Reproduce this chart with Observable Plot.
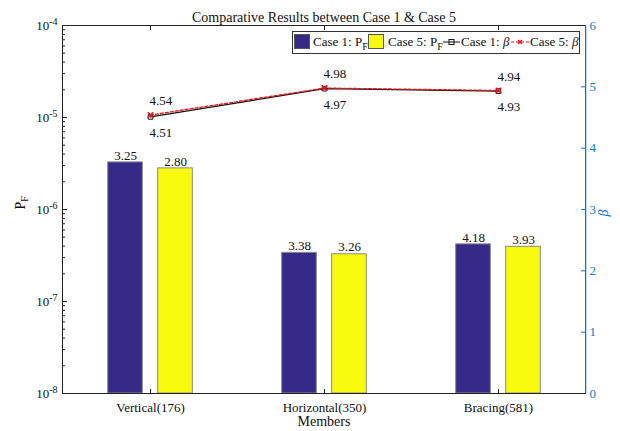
<!DOCTYPE html>
<html><head><meta charset="utf-8">
<script src="https://cdn.jsdelivr.net/npm/d3@7"></script>
<script src="https://cdn.jsdelivr.net/npm/@observablehq/plot@0.6"></script>
<style>
body{margin:0;background:#fff;font-family:"Liberation Serif","Times New Roman",serif}
#wrap{position:relative;width:620px;height:431px}
#legend{position:absolute;left:292px;top:31px;width:286px;height:21px;border:1px solid #333;background:#fff;font-size:13px;color:#111;white-space:nowrap}
#legend > *{position:absolute}
#legend .sw{top:2px;width:16px;height:15px;border:1px solid #555;box-sizing:border-box}
#legend .tx{top:2px;line-height:15px}
#legend sub{font-size:10px;vertical-align:-4px;line-height:0}
#legend svg{top:5px}
</style></head><body><div id="wrap"></div>
<script>
const members = ["Vertical(176)", "Horizontal(350)", "Bracing(581)"];
const pfCase1 = [3.25e-6, 3.38e-7, 4.18e-7];
const pfCase5 = [2.80e-6, 3.26e-7, 3.93e-7];
const betaCase1 = [4.51, 4.97, 4.93];
const betaCase5 = [4.54, 4.98, 4.94];
const pfTicks = [1e-8, 1e-7, 1e-6, 1e-5, 1e-4];
const betaTicks = [0, 1, 2, 3, 4, 5, 6];
const seriesNames = ["Case 1", "Case 5"];
const barColors = ["#352a87", "#f8fa0d"];
const blue = "#0b78cf";
const FF = '"Liberation Serif","Times New Roman",serif';

// map beta (0..6) onto the log PF axis (1e-8..1e-4)
const betaToY = b => 10 ** (-8 + b * 4 / 6);

const bars1 = members.map((m, i) => ({m, v: pfCase1[i]}));
const bars5 = members.map((m, i) => ({m, v: pfCase5[i]}));
const b1 = members.map((m, i) => ({m, b: betaCase1[i]}));
const b5 = members.map((m, i) => ({m, b: betaCase5[i]}));
const minor = [];
for (let e = -8; e < -4; e++) for (let k = 2; k <= 9; k++) minor.push(k * 10 ** e);
const mant = v => (v / 10 ** Math.floor(Math.log10(v) + 1e-9)).toFixed(2);

const W = 620, H = 431, ML = 62, MR = 35, MT = 25, MB = 38;
const bw = (W - ML - MR) / members.length;
const barW = 35, gap = 50;
const plot = Plot.plot({
  width: W, height: H,
  marginLeft: ML, marginRight: MR, marginTop: MT, marginBottom: MB,
  style: {fontFamily: FF, fontSize: "13px", color: "#111", background: "#fff"},
  x: {type: "band", domain: members, padding: 0, axis: null},
  y: {type: "log", domain: [1e-8, 1e-4], axis: null},
  marks: [
    Plot.barY(bars1, {x: "m", y1: 1e-8, y2: "v", fill: barColors[0], stroke: "#8a8a8a", strokeWidth: 1,
      insetLeft: bw / 2 - gap / 2 - barW / 2, insetRight: bw / 2 + gap / 2 - barW / 2}),
    Plot.barY(bars5, {x: "m", y1: 1e-8, y2: "v", fill: barColors[1], stroke: "#8a8a8a", strokeWidth: 1,
      insetLeft: bw / 2 + gap / 2 - barW / 2, insetRight: bw / 2 - gap / 2 - barW / 2}),
    Plot.text(bars1, {x: "m", y: "v", text: d => mant(d.v), dx: -gap / 2, dy: -7, fontSize: 13, fontFamily: FF, fill: "#111"}),
    Plot.text(bars5, {x: "m", y: "v", text: d => mant(d.v), dx: gap / 2, dy: -7, fontSize: 13, fontFamily: FF, fill: "#111"}),
    Plot.frame({stroke: "#222", strokeWidth: 1}),
    // x axis (bottom + top ticks)
    Plot.axisX({anchor: "bottom", label: null, tickSize: 0, tickPadding: 9, fontSize: 13, fontFamily: FF, fill: "#111"}),
    Plot.axisX({anchor: "bottom", label: null, tickSize: -4, tickFormat: () => "", stroke: "#222"}),
    Plot.axisX({anchor: "top", label: null, tickSize: -4, tickFormat: () => "", stroke: "#222"}),
    // left log axis
    Plot.axisY({anchor: "left", label: null, ticks: pfTicks, tickSize: 0, tickPadding: 5, fontSize: 13, fontFamily: FF, fill: "#111", tickFormat: v => "10^" + Math.round(Math.log10(v))}),
    Plot.axisY({anchor: "left", label: null, ticks: pfTicks, tickSize: -5, tickFormat: () => "", stroke: "#222"}),
    Plot.axisY({anchor: "left", label: null, ticks: minor, tickSize: -3, tickFormat: () => "", stroke: "#222"}),
    // right beta axis
    Plot.ruleX([members[2]], {x: d => d, dx: bw / 2, y1: 1e-8, y2: 1e-4, stroke: blue, strokeWidth: 1.2}),
    Plot.tickY(betaTicks.slice(1, -1), {y: betaToY, insetLeft: W - ML - MR - 4, stroke: blue, strokeWidth: 1}),
    Plot.text(betaTicks, {y: betaToY, text: d => String(d), frameAnchor: "right", dx: 4, textAnchor: "start", fontSize: 13, fontFamily: FF, fill: blue}),
    // beta lines
    Plot.line(b1, {x: "m", y: d => betaToY(d.b), stroke: "#111", strokeWidth: 1.2}),
    Plot.dot(b1, {x: "m", y: d => betaToY(d.b), symbol: "square", r: 2.6, stroke: "#111", fill: "none", strokeWidth: 1}),
    Plot.line(b5, {x: "m", y: d => betaToY(d.b), stroke: "#e8141a", strokeWidth: 1.3, strokeDasharray: "3,2"}),
    Plot.dot(b5, {x: "m", y: d => betaToY(d.b), symbol: "times", r: 2.6, stroke: "#e8141a", strokeWidth: 1.5}),
    Plot.text(b5, {x: "m", y: d => betaToY(d.b), text: d => d.b.toFixed(2), textAnchor: "start", dx: -1, dy: -14, fontSize: 13, fontFamily: FF, fill: "#111"}),
    Plot.text(b1, {x: "m", y: d => betaToY(d.b), text: d => d.b.toFixed(2), textAnchor: "start", dx: -1, dy: 16, fontSize: 13, fontFamily: FF, fill: "#111"}),
    // titles
    Plot.text(["Comparative Results between Case 1 & Case 5"], {frameAnchor: "top", dy: -13, fontSize: 14, fontFamily: FF, fill: "#111"}),
    Plot.text(["Members"], {frameAnchor: "bottom", dy: 32, fontSize: 14, fontFamily: FF, fill: "#111"}),
    Plot.text(["P_F"], {frameAnchor: "left", dx: -42, rotate: -90, fontSize: 14, fontFamily: FF, fill: "#111"}),
    Plot.text(["β"], {frameAnchor: "right", dx: 18, rotate: -90, fontSize: 14, fontFamily: FF, fill: blue, fontStyle: "italic"})
  ]
});
document.getElementById("wrap").appendChild(plot);

// superscripts / subscripts
d3.select(plot).selectAll("text").each(function () {
  const t = this.textContent;
  if (/^10\^/.test(t)) {
    const e = t.slice(3);
    const s = d3.select(this); s.text(null);
    s.append("tspan").text("10");
    s.append("tspan").attr("dy", "-0.45em").attr("font-size", "10px").text(e);
  } else if (t === "P_F") {
    const s = d3.select(this); s.text(null);
    s.append("tspan").text("P");
    s.append("tspan").attr("dy", "0.35em").attr("font-size", "10px").text("F");
  }
});

const leg = document.createElement("div");
leg.id = "legend";
leg.innerHTML =
  `<span class="sw" style="left:1px;background:${barColors[0]}"></span>` +
  `<span class="tx" style="left:20px">${seriesNames[0]}: P<sub>F</sub></span>` +
  `<span class="sw" style="left:75px;background:${barColors[1]}"></span>` +
  `<span class="tx" style="left:95px">${seriesNames[1]}: P<sub>F</sub></span>` +
  `<svg width="17" height="10" style="left:150px"><line x1="0" y1="5" x2="17" y2="5" stroke="#111"/><rect x="6" y="2.5" width="5" height="5" fill="none" stroke="#111"/></svg>` +
  `<span class="tx" style="left:168px">${seriesNames[0]}: <i>β</i></span>` +
  `<svg width="18" height="10" style="left:218px"><line x1="0" y1="5" x2="18" y2="5" stroke="#e8141a" stroke-dasharray="3,2"/><path d="M7,3L11,7M11,3L7,7" stroke="#e8141a" stroke-width="1.5"/></svg>` +
  `<span class="tx" style="left:237px">${seriesNames[1]}: <i>β</i></span>`;
document.getElementById("wrap").appendChild(leg);
</script>
</body></html>
